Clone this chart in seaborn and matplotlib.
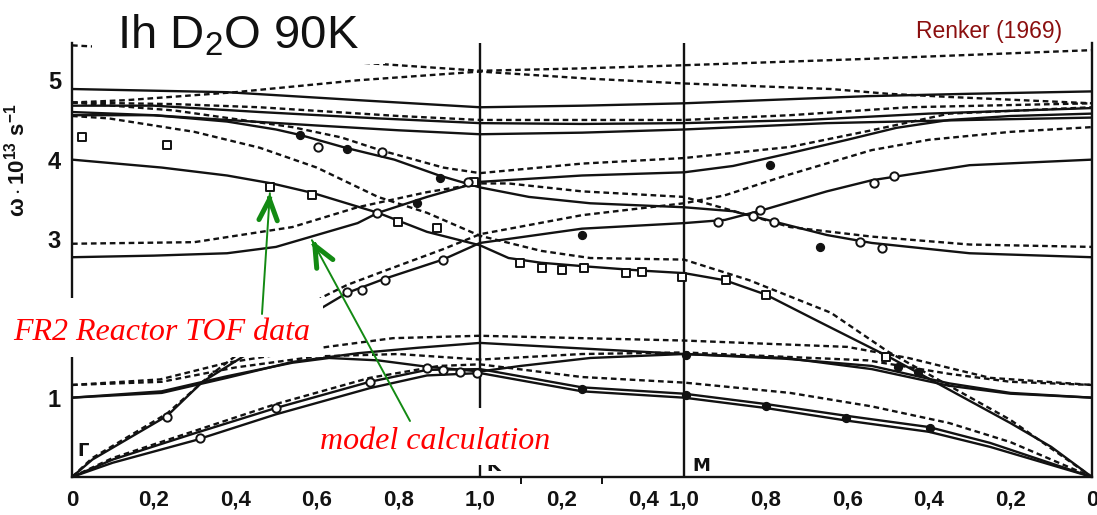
import matplotlib
matplotlib.use("Agg")
import matplotlib.pyplot as plt
import matplotlib.text as mtext
from matplotlib.patches import Rectangle
import numpy as np
import pandas as pd
import seaborn as sns

# Path coordinate: Gamma-K = 0..1, K-M = 1..1.5, M-Gamma = 1.5..2.5
# Frequencies in units of 10^13 s^-1

# ---- model curves (solid) ----
S_TOP = [(0, 4.89), (0.38, 4.85), (0.7, 4.75), (1.0, 4.66), (1.25, 4.68), (1.5, 4.71),
         (1.95, 4.8), (2.2, 4.83), (2.5, 4.86)]
S_HIGH2 = [(0, 4.68), (0.2, 4.68), (0.46, 4.6), (0.75, 4.52), (1.0, 4.46), (1.25, 4.45),
           (1.5, 4.46), (1.8, 4.5), (2.1, 4.58), (2.5, 4.65)]
S_HIGH3 = [(0, 4.56), (0.2, 4.56), (0.38, 4.5), (0.6, 4.43), (0.8, 4.37), (1.0, 4.32),
           (1.25, 4.34), (1.5, 4.38), (1.85, 4.46), (2.2, 4.5), (2.5, 4.53)]
S_OPT_DOWN = [(0, 4.6), (0.2, 4.56), (0.38, 4.48), (0.5, 4.38), (0.56, 4.31), (0.67, 4.15),
              (0.79, 4.0), (0.9, 3.8), (1.0, 3.65), (1.12, 3.53), (1.27, 3.45), (1.5, 3.4),
              (1.62, 3.35), (1.72, 3.22), (1.85, 3.05), (1.96, 2.95), (2.2, 2.82), (2.5, 2.77)]
S_OPT_UP = [(0, 2.77), (0.2, 2.79), (0.38, 2.82), (0.5, 2.9), (0.58, 3.02), (0.7, 3.2),
            (0.75, 3.33), (0.87, 3.53), (1.0, 3.72), (1.25, 3.8), (1.5, 3.84), (1.62, 3.92),
            (1.75, 4.07), (1.9, 4.25), (2.02, 4.4), (2.15, 4.5), (2.3, 4.55), (2.5, 4.58)]
S_BRANCH_A = [(0, 4.0), (0.22, 3.9), (0.38, 3.8), (0.49, 3.7), (0.59, 3.58), (0.75, 3.33),
              (0.87, 3.09), (1.0, 2.92), (1.07, 2.76), (1.15, 2.7), (1.27, 2.65), (1.4, 2.6),
              (1.5, 2.57), (1.6, 2.48), (1.7, 2.3), (1.83, 1.96), (2.0, 1.52), (2.15, 1.1),
              (2.3, 0.68), (2.4, 0.38), (2.5, 0.0)]
S_BRANCH_B = [(0, 0.0), (0.05, 0.22), (0.233, 0.77), (0.32, 1.2), (0.42, 1.52), (0.615, 2.14),
              (0.674, 2.32), (0.767, 2.5), (0.909, 2.74), (1.0, 2.95), (1.25, 3.13), (1.5, 3.2),
              (1.6, 3.24), (1.69, 3.36), (1.85, 3.6), (1.96, 3.74), (2.2, 3.93), (2.5, 4.0)]
S_LOW1 = [(0, 1.0), (0.22, 1.06), (0.38, 1.25), (0.54, 1.45), (0.7, 1.56), (0.85, 1.63),
          (1.0, 1.69), (1.25, 1.62), (1.5, 1.55), (1.75, 1.49), (1.96, 1.4), (2.15, 1.18),
          (2.3, 1.06), (2.5, 1.0)]
S_LOW2 = [(0, 1.0), (0.22, 1.08), (0.38, 1.27), (0.54, 1.44), (0.63, 1.5), (0.75, 1.47),
          (0.87, 1.39), (1.0, 1.33), (1.1, 1.4), (1.27, 1.5), (1.5, 1.55), (1.75, 1.5),
          (1.96, 1.36), (2.15, 1.15), (2.3, 1.05), (2.5, 1.0)]
S_TA1 = [(0, 0.0), (0.1, 0.22), (0.3, 0.55), (0.5, 0.87), (0.73, 1.2), (0.87, 1.35),
         (1.0, 1.36), (1.25, 1.13), (1.5, 1.05), (1.7, 0.92), (1.9, 0.77), (2.1, 0.63),
         (2.25, 0.43), (2.5, 0.0)]
S_TA2 = [(0, 0.0), (0.1, 0.18), (0.3, 0.46), (0.5, 0.79), (0.73, 1.12), (0.87, 1.28),
         (1.0, 1.31), (1.25, 1.08), (1.5, 1.0), (1.7, 0.87), (1.9, 0.71), (2.1, 0.57),
         (2.25, 0.38), (2.5, 0.0)]

# ---- model curves (dashed) ----
D_TOP = [(0, 5.44), (0.3, 5.36), (0.55, 5.28), (0.77, 5.2), (1.0, 5.12), (1.25, 5.15),
         (1.5, 5.19), (1.95, 5.27), (2.5, 5.38)]
D_HIGH1 = [(0, 4.72), (0.135, 4.75), (0.4, 4.85), (0.7, 5.0), (1.0, 5.11), (1.27, 5.02),
           (1.5, 4.96), (1.86, 4.89), (2.0, 4.83), (2.15, 4.79), (2.5, 4.71)]
D_HIGH2 = [(0, 4.72), (0.25, 4.7), (0.46, 4.66), (0.8, 4.55), (1.0, 4.5), (1.5, 4.5),
           (1.76, 4.56), (2.05, 4.66), (2.5, 4.71)]
D_OPT_DOWN = [(0, 4.72), (0.25, 4.62), (0.54, 4.41), (0.66, 4.28), (0.755, 4.12), (0.91, 3.9),
              (1.0, 3.83), (1.25, 3.95), (1.5, 4.02), (1.76, 4.16), (1.96, 4.37), (2.15, 4.58),
              (2.5, 4.66)]
D_OPT_UP = [(0, 2.94), (0.3, 2.96), (0.54, 3.15), (0.7, 3.4), (0.87, 3.59), (1.0, 3.7),
            (1.07, 3.7), (1.25, 3.6), (1.5, 3.53), (1.76, 3.15), (1.96, 3.03), (2.2, 2.93),
            (2.5, 2.9)]
D_BRANCH_A = [(0, 4.55), (0.09, 4.52), (0.3, 4.35), (0.46, 4.15), (0.6, 3.9), (0.75, 3.53),
              (0.87, 3.33), (1.0, 3.04), (1.15, 2.85), (1.27, 2.76), (1.5, 2.74), (1.66, 2.48),
              (1.86, 2.07), (2.0, 1.58), (2.15, 1.15), (2.3, 0.72), (2.5, 0.0)]
D_BRANCH_B = [(0, 0.0), (0.05, 0.24), (0.233, 0.8), (0.338, 1.28), (0.42, 1.6), (0.615, 2.27),
              (0.674, 2.42), (0.767, 2.6), (0.909, 2.87), (1.0, 3.06), (1.25, 3.3), (1.5, 3.45),
              (1.6, 3.55), (1.75, 3.8), (1.96, 4.12), (2.1, 4.25), (2.3, 4.35), (2.5, 4.41)]
D_LOW1 = [(0, 1.16), (0.216, 1.23), (0.38, 1.44), (0.625, 1.64), (0.787, 1.75), (1.0, 1.78),
          (1.5, 1.72), (1.9, 1.64), (2.05, 1.5), (2.25, 1.25), (2.5, 1.16)]
D_LOW2 = [(0, 1.16), (0.22, 1.2), (0.4, 1.38), (0.6, 1.52), (0.8, 1.55), (1.0, 1.48),
          (1.25, 1.55), (1.5, 1.57), (1.95, 1.47), (2.15, 1.3), (2.3, 1.2), (2.5, 1.16)]
D_TA = [(0, 0.0), (0.1, 0.24), (0.3, 0.58), (0.5, 0.92), (0.73, 1.25), (0.9, 1.4), (1.0, 1.42),
        (1.25, 1.26), (1.5, 1.19), (1.76, 1.06), (1.96, 0.89), (2.15, 0.68), (2.3, 0.44),
        (2.5, 0.0)]

# ---- neutron time-of-flight measurements ----
SQUARES = [(0.025, 4.28), (0.233, 4.18), (0.485, 3.65), (0.588, 3.56), (0.799, 3.21),
           (0.895, 3.14), (0.985, 3.72), (1.098, 2.70), (1.152, 2.63), (1.201, 2.61),
           (1.255, 2.64), (1.358, 2.57), (1.397, 2.58), (1.495, 2.52), (1.603, 2.48),
           (1.701, 2.29), (1.995, 1.51)]
OPEN_CIRCLES = [(0.603, 4.16), (0.76, 4.09), (0.97, 3.72), (0.748, 3.33), (0.233, 0.76),
                (0.314, 0.49), (0.5, 0.87), (0.73, 1.2), (0.87, 1.37), (0.909, 1.35),
                (0.951, 1.32), (0.993, 1.31), (0.674, 2.33), (0.711, 2.36), (0.767, 2.48),
                (0.909, 2.73), (1.583, 3.21), (1.669, 3.29), (1.686, 3.36), (1.721, 3.21),
                (1.931, 2.96), (1.985, 2.88), (1.966, 3.70), (2.015, 3.79)]
FILLED_CIRCLES = [(0.559, 4.31), (0.674, 4.14), (0.902, 3.77), (0.846, 3.45), (1.25, 3.05),
                  (1.711, 3.93), (1.833, 2.90), (1.25, 1.11), (1.505, 1.03), (1.701, 0.89),
                  (1.897, 0.74), (2.103, 0.62), (2.025, 1.39), (2.074, 1.32), (1.505, 1.54)]

X_TICKS = [0, 0.2, 0.4, 0.6, 0.8, 1.0, 1.2, 1.4, 1.5, 1.7, 1.9, 2.1, 2.3, 2.5]
X_LABELS = ["0", "0,2", "0,4", "0,6", "0,8", "1,0", "0,2", "0,4", "1,0",
            "0,8", "0,6", "0,4", "0,2", "0"]
X_MINOR = [1.1, 1.3]
Y_TICKS = [1, 3, 4, 5]
POINT_LABELS = [("\u0393", 0.012, 0.22), ("K", 1.015, 0.02), ("M", 1.52, 0.02)]

solid = {"s_top": S_TOP, "s_high2": S_HIGH2, "s_high3": S_HIGH3, "s_opt_down": S_OPT_DOWN,
         "s_opt_up": S_OPT_UP, "s_branch_a": S_BRANCH_A, "s_branch_b": S_BRANCH_B,
         "s_low1": S_LOW1, "s_low2": S_LOW2, "s_ta1": S_TA1, "s_ta2": S_TA2}
dashed = {"d_top": D_TOP, "d_high1": D_HIGH1, "d_high2": D_HIGH2, "d_opt_down": D_OPT_DOWN,
          "d_opt_up": D_OPT_UP, "d_branch_a": D_BRANCH_A, "d_branch_b": D_BRANCH_B,
          "d_low1": D_LOW1, "d_low2": D_LOW2, "d_ta": D_TA}

rows = []
for kind, group in (("solid", solid), ("dashed", dashed)):
    for name, pts in group.items():
        for s, w in pts:
            rows.append({"q": s, "omega": w, "branch": name, "model": kind})
curves = pd.DataFrame(rows)

def points(pts):
    return pd.DataFrame(pts, columns=["q", "omega"])

sns.set_theme(style="white")
plt.rcParams["font.family"] = ["Liberation Sans", "DejaVu Sans"]
plt.rcParams["mathtext.fontset"] = "custom"
plt.rcParams["mathtext.rm"] = "Liberation Sans"
plt.rcParams["mathtext.it"] = "Liberation Sans:italic"
plt.rcParams["mathtext.bf"] = "Liberation Sans:bold"

W, H = 1097, 515
fig = plt.figure(figsize=(W / 100, H / 100), dpi=100)
ax = fig.add_axes([72 / W, 38 / H, 1020 / W, 434 / H])
ink = "#121212"

sns.lineplot(data=curves, x="q", y="omega", units="branch", estimator=None, style="model",
             dashes={"solid": "", "dashed": (2.4, 1.6)}, color=ink, linewidth=1.7,
             legend=False, ax=ax)

sns.scatterplot(data=points(SQUARES), x="q", y="omega", marker="s", s=40,
                facecolor="white", edgecolor=ink, linewidth=1.4, ax=ax, zorder=4)
sns.scatterplot(data=points(OPEN_CIRCLES), x="q", y="omega", marker="o", s=36,
                facecolor="white", edgecolor=ink, linewidth=1.4, ax=ax, zorder=4)
sns.scatterplot(data=points(FILLED_CIRCLES), x="q", y="omega", marker="o", s=32,
                color=ink, edgecolor=ink, linewidth=1.0, ax=ax, zorder=4)

for xv in (1.0, 1.5):
    ax.axvline(xv, color=ink, lw=1.7, zorder=3)

ax.set_xlim(0, 2.5)
ax.set_ylim(0, 5.47)
ax.set_xticks(X_TICKS)
ax.set_xticklabels(X_LABELS)
ax.set_xticks(X_MINOR, minor=True)
ax.set_yticks(Y_TICKS)
ax.set_yticklabels([str(t) for t in Y_TICKS])
ax.tick_params(axis="both", which="both", direction="out", color=ink, width=1.4,
               labelcolor=ink)
ax.tick_params(axis="x", which="major", length=5, pad=4, labelsize=16)
ax.tick_params(axis="x", which="minor", length=5, bottom=True)
ax.tick_params(axis="y", length=6, pad=2, labelsize=17)
for lab in ax.get_xticklabels() + ax.get_yticklabels():
    lab.set_fontweight("bold")
ax.set_xlabel("")
ax.set_ylabel(r"$\mathbf{\omega \cdot 10^{13}\ s^{-1}}$", fontsize=16, color=ink)
ax.yaxis.set_label_coords(-42 / 1020, (477 - 160) / 434)
ax.spines["top"].set_visible(False)
for side in ("left", "bottom", "right"):
    ax.spines[side].set_color(ink)
    ax.spines[side].set_linewidth(1.7)

for txt, qx, wy in POINT_LABELS:
    ax.text(qx, wy, txt, fontsize=13, fontweight="bold", color=ink, ha="left", va="bottom",
            family=["DejaVu Sans"])

def fbox(x0, y0, x1, y1):
    fig.add_artist(Rectangle((x0 / W, 1 - y1 / H), (x1 - x0) / W, (y1 - y0) / H,
                             transform=fig.transFigure, facecolor="white",
                             edgecolor="none", zorder=5))

fbox(92, 0, 385, 64)
fbox(0, 298, 323, 357)
fbox(307, 408, 553, 465)

fig.text(117 / W, 1 - 48 / H, r"Ih D$_2$O 90K", fontsize=34, color="#111111",
         family="Liberation Sans", va="baseline", zorder=6)
fig.text(1062 / W, 1 - 38 / H, "Renker (1969)", fontsize=16.5, color="#8b0f0f",
         family="Liberation Sans", ha="right", va="baseline", zorder=6)
fig.text(13 / W, 1 - 340 / H, "FR2 Reactor TOF data", fontsize=23, color="red",
         family="Liberation Serif", style="italic", va="baseline", zorder=6)
fig.text(320 / W, 1 - 449 / H, "model calculation", fontsize=23, color="red",
         family="Liberation Serif", style="italic", va="baseline", zorder=6)

green = "#138a13"

def pointer(tail_px, tip_q, tip_w):
    tip = ax.transData.transform((tip_q, tip_w))
    tail = np.array([tail_px[0], H - tail_px[1]], dtype=float)
    shaft = mtext.Annotation("", xy=tip, xycoords="figure pixels", xytext=tail,
                             textcoords="figure pixels",
                             arrowprops=dict(arrowstyle="-", color=green, lw=1.4,
                                             shrinkA=0, shrinkB=0))
    shaft.set_zorder(7)
    fig.add_artist(shaft)
    d = (tip - tail) / np.hypot(*(tip - tail))
    head = mtext.Annotation("", xy=tip, xycoords="figure pixels", xytext=tip - 4 * d,
                            textcoords="figure pixels",
                            arrowprops=dict(arrowstyle="->,head_length=1.25,head_width=0.55",
                                            color=green, lw=3.6, shrinkA=0, shrinkB=0,
                                            capstyle="round", joinstyle="miter"))
    head.set_zorder(7)
    fig.add_artist(head)

pointer((262, 314), 0.485, 3.577)
pointer((410, 421), 0.588, 2.985)

fig.savefig("out.png", dpi=100, facecolor="white")
